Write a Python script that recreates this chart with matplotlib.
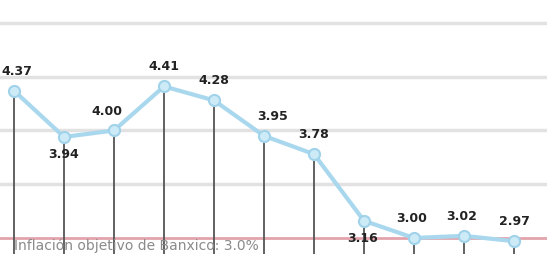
import numpy as np
from matplotlib import pyplot as plt

# inflacion anual, 2019 (ene-nov)
months = ['Ene', 'Feb', 'Mar', 'Abr', 'May', 'Jun', 'Jul', 'Ago', 'Sep', 'Oct', 'Nov']
inflation = [4.37, 3.94, 4.00, 4.41, 4.28, 3.95, 3.78, 3.16, 3.00, 3.02, 2.97]
target = 3.0
target_label = u'Inflación objetivo de Banxico: 3.0%'
# label above (+1) or below (-1) the point
label_side = [1, -1, 1, 1, 1, 1, 1, -1, 1, 1, 1]
label_dx = [2, 0, -5, 0, 0, 6, 0, -1, -2, -2, 0]

plt.rcParams['font.family'] = 'DejaVu Sans'
fig = plt.figure(figsize=(5.47, 2.54), dpi=100)
ax = fig.add_axes([0, 0, 1, 1])

x = np.arange(len(months))
ax.set_xlim(-0.28, 10.66)
ax.set_ylim(2.851, 5.214)

# horizontal grid
for g in [3.5, 4.0, 4.5, 5.0]:
    ax.axhline(g, color='#e2e2e2', linewidth=2.5, zorder=0)
ax.axhline(target, color='#e3a3ad', linewidth=2, zorder=1)

# vertical stems
ax.vlines(x, 2.851, inflation, color='#555555', linewidth=1.3, zorder=2)

ax.plot(x, inflation, color='#a9d8ee', linewidth=3, zorder=3,
        marker='o', markersize=8, markerfacecolor='#cdeaf7',
        markeredgecolor='#a0d2ea', markeredgewidth=1.5)

for xi, v, s, dx in zip(x, inflation, label_side, label_dx):
    dy = 14 if s > 0 else -13
    ax.annotate('%.2f' % v, (xi, v), xytext=(dx, dy),
                textcoords='offset points', ha='center', va='center',
                fontsize=9, fontweight='bold', color='#222222', zorder=4)

ax.text(0.006, 2.925, target_label, fontsize=10, color='#8a8a8a',
        ha='left', va='center', zorder=4)

ax.set_axis_off()
fig.savefig('out.png', dpi=100)
